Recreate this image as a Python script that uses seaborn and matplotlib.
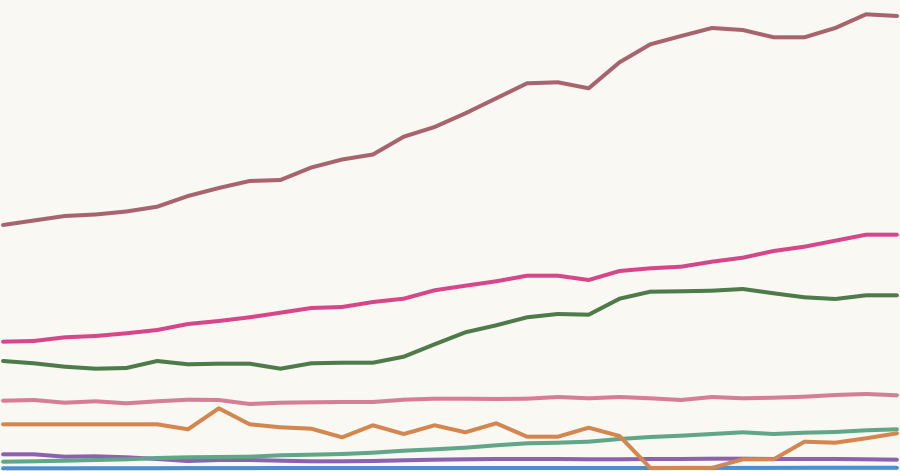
import numpy as np
import pandas as pd
import matplotlib
matplotlib.use("Agg")
import matplotlib.pyplot as plt
import seaborn as sns

# 30 time steps, no labels shown on the chart
steps = list(range(30))

# values (height above the bottom edge)
mauve = [246, 250.5, 255, 256.5, 259.5, 264.3, 275, 283, 290, 291, 303.5, 311.5, 316.5, 334.3, 344,
         357.7, 372.7, 387.7, 388.7, 382.7, 408.7, 426.7, 435, 443, 441, 433.7, 433.7, 443, 456.7, 455]
pink = [129.3, 130, 133.7, 135, 137.7, 141, 147, 150, 153.7, 158.3, 163, 164, 169, 172.3, 180.7,
        185.3, 189.7, 195.3, 195.3, 191, 200, 202.7, 204.3, 209.3, 213.3, 220, 224.3, 230.3, 236.3, 236.3]
green = [110, 107.7, 104.3, 102.3, 103, 110, 106.7, 107.3, 107.3, 102.3, 107.7, 108.3, 108.3, 114.3, 126.7,
         138.7, 145.7, 153.7, 157, 156.3, 172.3, 179.3, 179.7, 180.3, 182, 177.7, 173.7, 172, 175.7, 175.7]
rose = [70.3, 71, 68.3, 69.7, 67.7, 69.7, 71.3, 71, 67, 68.3, 68.7, 69, 69, 71.3, 72.3,
        72.3, 72, 72.3, 74, 72.7, 74, 72.7, 71, 74, 72.7, 73.3, 74.3, 76, 77, 75.7]
orange = [46.7, 46.7, 46.7, 46.7, 46.7, 46.7, 41.7, 62.7, 46.7, 43.7, 42.3, 33.7, 45.7, 37, 45.7,
          38.7, 47.7, 34.3, 34.3, 43.3, 35, 3, 3, 3, 11.7, 11.7, 29.3, 28.3, 32.7, 37.7]
teal = [9.3, 9.7, 10.3, 11, 11.7, 13, 13.7, 14, 14.3, 15.7, 16.3, 17, 18.3, 20.3, 21.7,
        23.3, 25.7, 27.7, 28.3, 29.3, 32, 34, 35.3, 37, 38.7, 37, 38.3, 39, 40.7, 41.7]
purple = [16.7, 16.7, 14.3, 14.7, 13.7, 12, 10, 11, 11, 10.3, 9.7, 9.7, 10, 10.7, 11.3,
          11.7, 12, 12, 12, 11.7, 11.7, 12, 12, 12.3, 12.3, 12, 12, 12, 11.7, 11.3]
blue = [2.7, 2.7, 2.7, 2.8, 2.8, 2.8, 2.9, 2.9, 2.9, 3, 3, 3, 3, 3, 3,
        3, 3, 3, 3, 3, 3, 3, 3.1, 3.1, 3.1, 3.1, 3.2, 3.2, 3.2, 3.2]

names = ["blue", "purple", "teal", "orange", "rose", "green", "pink", "mauve"]
series = [blue, purple, teal, orange, rose, green, pink, mauve]
colors = ["#4b8fd1", "#8c62b0", "#5fa786", "#d3874f", "#d47f96", "#4f7a4a", "#d6478a", "#a8646e"]

df = pd.concat(
    [pd.DataFrame({"step": steps, "value": v, "series": n}) for n, v in zip(names, series)],
    ignore_index=True,
)

bg = "#faf8f3"
fig = plt.figure(figsize=(9, 4.71), dpi=100, facecolor=bg)
ax = fig.add_axes([0, 0, 1, 1])
ax.set_facecolor(bg)

sns.lineplot(data=df, x="step", y="value", hue="series", hue_order=names,
             palette=dict(zip(names, colors)), linewidth=2.9, legend=False, ax=ax,
             solid_capstyle="round", solid_joinstyle="round")

ax.set_xlim(-0.1, 29.1)
ax.set_ylim(0, 471)
ax.axis("off")

fig.savefig("out.png", dpi=100, facecolor=bg)
